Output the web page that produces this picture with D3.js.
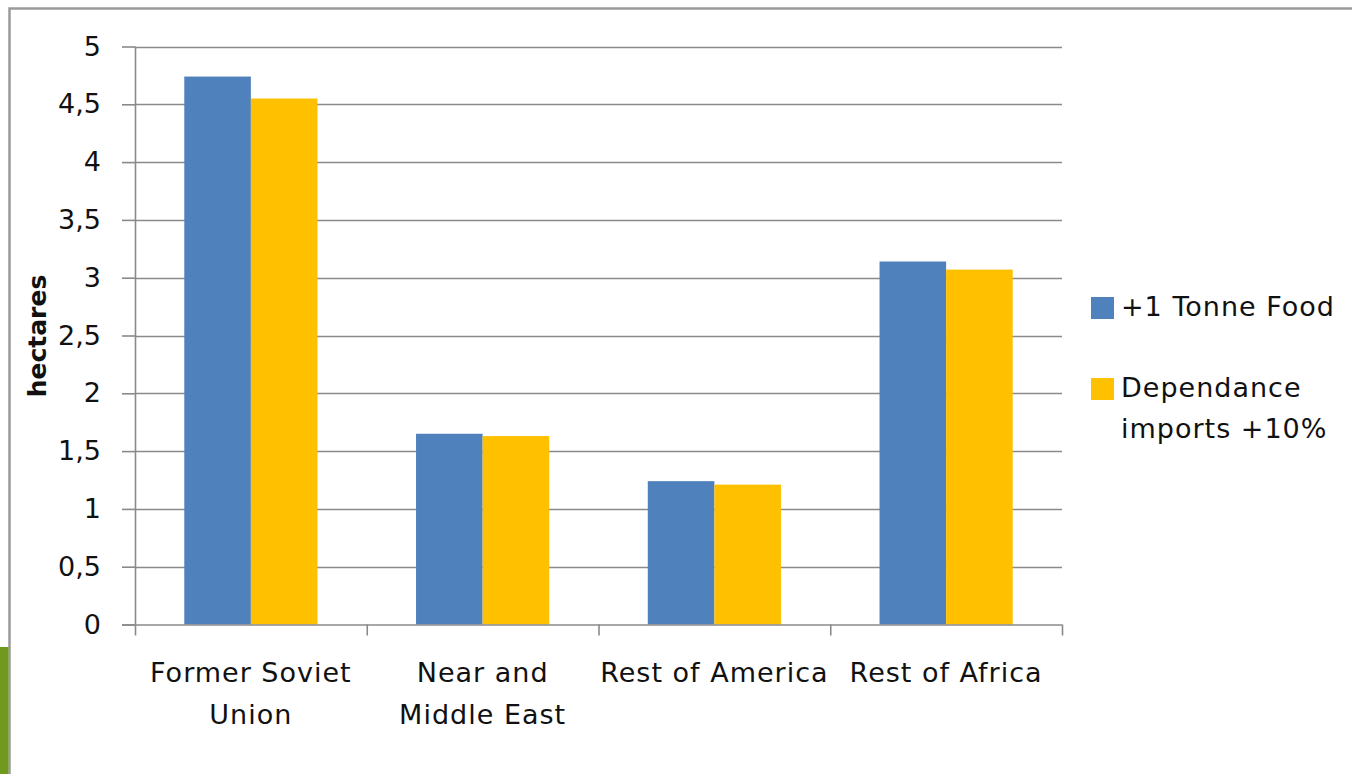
<!DOCTYPE html>
<html>
<head>
<meta charset="utf-8">
<script src="https://cdn.jsdelivr.net/npm/d3@7"></script>
<style>
  html, body { margin: 0; padding: 0; background: #fff; }
  svg { display: block; font-family: "DejaVu Sans", Verdana, sans-serif; }
</style>
</head>
<body>
<svg id="chart" width="1352" height="774"></svg>
<script>
// Land required per region (hectares)
const categories = [["Former Soviet", "Union"], ["Near and", "Middle East"], ["Rest of America"], ["Rest of Africa"]];
const categoryKeys = ["Former Soviet Union", "Near and Middle East", "Rest of America", "Rest of Africa"];
const seriesNames = ["+1 Tonne Food", "Dependance imports +10%"];
const legendLines = [["+1 Tonne Food"], ["Dependance", "imports +10%"]];
const tonneFood = [4.74, 1.65, 1.24, 3.14];
const importsDependance = [4.55, 1.63, 1.21, 3.07];
const yTicks = [0, 0.5, 1, 1.5, 2, 2.5, 3, 3.5, 4, 4.5, 5];
const colors = ["#4F81BD", "#FFC000"];

const svg = d3.select("#chart");

// frame and side accent
svg.append("rect").attr("x", 9.5).attr("y", 8.5).attr("width", 1400).attr("height", 800)
  .attr("fill", "none").attr("stroke", "#9a9a9a").attr("stroke-width", 2.5);
svg.append("rect").attr("x", 0).attr("y", 647).attr("width", 8.5).attr("height", 127).attr("fill", "#6f9a1e");

const plot = { left: 135, right: 1062, top: 46.5, bottom: 624.5 };

const y = d3.scaleLinear().domain([0, 5]).range([plot.bottom, plot.top]);
const x0 = d3.scaleBand().domain(categoryKeys).range([plot.left, plot.right]).padding(0);
const x1 = d3.scaleBand().domain(seriesNames).range([0, x0.bandwidth()]).paddingInner(0).paddingOuter(0.74);

// gridlines
svg.append("g").selectAll("line").data(yTicks.filter(d => d > 0)).join("line")
  .attr("x1", plot.left).attr("x2", plot.right)
  .attr("y1", d => Math.round(y(d)) + 0.5).attr("y2", d => Math.round(y(d)) + 0.5)
  .attr("stroke", "#8a8a8a").attr("stroke-width", 1.6);

// bars
const rows = categoryKeys.map((c, i) => ({ key: c, values: [tonneFood[i], importsDependance[i]] }));
const groups = svg.append("g").selectAll("g").data(rows).join("g")
  .attr("transform", d => `translate(${x0(d.key)},0)`);
groups.selectAll("rect").data(d => d.values.map((v, j) => ({ v, s: seriesNames[j], j }))).join("rect")
  .attr("x", d => x1(d.s)).attr("width", x1.bandwidth())
  .attr("y", d => y(d.v)).attr("height", d => y(0) - y(d.v))
  .attr("fill", d => colors[d.j]);

// y axis
const yAxis = d3.axisLeft(y).tickValues(yTicks).tickSize(13).tickPadding(21)
  .tickFormat(d => String(d).replace(".", ","));
const gy = svg.append("g").attr("transform", `translate(${plot.left},0)`).call(yAxis);
gy.select(".domain").attr("stroke", "#8a8a8a").attr("stroke-width", 1.6).attr("d", `M0.5,${plot.top}V${plot.bottom}`);
gy.selectAll(".tick line").attr("stroke", "#8a8a8a").attr("stroke-width", 1.6);
gy.selectAll(".tick text").attr("font-size", 27).attr("fill", "#111").attr("font-family", "DejaVu Sans");

// x axis line and category separators
const xLine = svg.append("g");
xLine.append("line").attr("x1", plot.left - 13).attr("x2", plot.right)
  .attr("y1", plot.bottom + 0.5).attr("y2", plot.bottom + 0.5).attr("stroke", "#8a8a8a").attr("stroke-width", 1.6);
const seps = categoryKeys.map(k => x0(k)).concat([plot.right]);
xLine.selectAll("line.sep").data(seps).join("line").attr("class", "sep")
  .attr("x1", d => d + 0.5).attr("x2", d => d + 0.5)
  .attr("y1", plot.bottom).attr("y2", plot.bottom + 11)
  .attr("stroke", "#8a8a8a").attr("stroke-width", 1.6);

// category labels
const xl = svg.append("g").selectAll("text").data(categoryKeys).join("text")
  .attr("x", d => x0(d) + x0.bandwidth() / 2).attr("y", 682)
  .attr("text-anchor", "middle").attr("font-size", 27).attr("letter-spacing", 1).attr("fill", "#111");
xl.each(function (d, i) {
  d3.select(this).selectAll("tspan").data(categories[i]).join("tspan")
    .attr("x", x0(d) + x0.bandwidth() / 2).attr("dy", (t, k) => k === 0 ? 0 : 42).text(t => t);
});

// y title
svg.append("text").attr("transform", "translate(46,336) rotate(-90)")
  .attr("text-anchor", "middle").attr("font-size", 25).attr("font-weight", "bold").attr("fill", "#111")
  .text("hectares");

// legend
const legendY = [297, 378];
const lg = svg.append("g").selectAll("g").data(seriesNames).join("g")
  .attr("transform", (d, i) => `translate(1091,${legendY[i]})`);
lg.append("rect").attr("width", 23).attr("height", 22).attr("fill", (d, i) => colors[i]);
lg.append("text").attr("x", 30).attr("y", 19).attr("font-size", 27).attr("letter-spacing", 1).attr("fill", "#111")
  .each(function (d, i) {
    d3.select(this).selectAll("tspan").data(legendLines[i]).join("tspan")
      .attr("x", 30).attr("dy", (t, k) => k === 0 ? 0 : 41).text(t => t);
  });
</script>
</body>
</html>
